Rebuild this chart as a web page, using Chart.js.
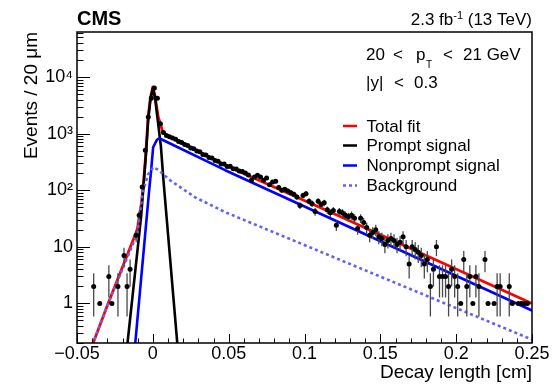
<!DOCTYPE html>
<html>
<head>
<meta charset="utf-8">
<script src="https://cdn.jsdelivr.net/npm/chart.js@4/dist/chart.umd.min.js"></script>
<style>
  html, body { margin: 0; padding: 0; background: #fff; }
  canvas { display: block; }
</style>
</head>
<body>
<canvas id="c" width="557" height="384"></canvas>
<script>
// ---------------- data ----------------
// Data histogram: bin centres [cm] and event counts (20 um bins, only non-empty bins)
const dataX = [
  -0.039,-0.035,-0.029,-0.027,-0.023,-0.019,-0.017,-0.015,-0.011,-0.009,-0.007,-0.005,-0.003,-0.001,
  0.001,0.003,0.005,0.007,0.009,0.011,0.013,0.015,0.017,0.019,0.021,0.023,0.025,0.027,0.029,0.031,
  0.033,0.035,0.037,0.039,0.041,0.043,0.045,0.047,0.049,0.051,0.053,0.055,0.057,0.059,0.061,0.063,
  0.065,0.067,0.069,0.071,0.073,0.075,0.077,0.079,0.081,0.083,0.085,0.087,0.089,0.091,0.093,0.095,
  0.097,0.099,0.101,0.103,0.105,0.107,0.109,0.111,0.113,0.115,0.117,0.119,0.121,0.123,0.125,0.127,
  0.129,0.131,0.133,0.135,0.137,0.139,0.141,0.143,0.145,0.147,0.149,0.151,0.153,0.155,0.157,0.159,
  0.161,0.163,0.165,0.167,0.169,0.171,0.173,0.175,0.177,0.179,0.181,0.183,0.185,0.187,0.189,0.191,
  0.193,0.195,0.197,0.199,0.201,0.203,0.205,0.207,0.209,0.211,0.213,0.215,0.219,0.221,0.225,0.227,
  0.229,0.235,0.237,0.241,0.243,0.245,0.247
];
const dataCounts = [
  2,1,3,1,2,7,2,4,16,36,114,510,1970,4200,
  6400,4200,1500,1050,930,880,840,800,730,700,640,615,560,540,495,480,
  430,420,380,370,335,325,290,290,262,265,240,238,218,215,202,185,
  150,172,184,172,150,165,125,140,144,112,100,104,97,90,85,76,
  54,81,87,64,58,42,64,56,60,45,40,44,24,42,40,36,
  34,36,32,21,32,27,22,16,18,20,15,14,11,13,14,13,
  11,12,15,10,5,10,9,8,7,5,6,2,4,10,3,3,
  3,2,4,3,2,1,6,2,3,1,3,2,6,1,1,2,
  2,2,1,1,1,1,1
];

// Fit curves: vertices (x [cm], value)
const totalFitX = [-0.0413,-0.0295,-0.0103,-0.0077,-0.0064,-0.0047,-0.0031,-0.0016,0.0000,0.0015,0.0035,0.0053,0.0065,0.0088,0.0114,0.0477,0.1202,0.2500];
const totalFitY = [0.145,1.0,20,55,110,420,1970,4300,6700,4600,2000,1400,1075,950,880,277,37.6,1.0];

const promptX = [-0.0172,-0.0077,-0.0057,-0.0044,-0.0031,-0.0016,0.0000,0.0015,0.0035,0.0053,0.0070,0.0165];
const promptY = [0.15,35,170,480,1700,4000,6300,4200,1500,600,150,0.15];

const nonpromptX = [-0.0120,-0.0024,-0.0011,0.0002,0.0026,0.0042,0.0477,0.2500];
const nonpromptY = [0.15,100,226,575,770,830,226,0.75];

const bkgX = [-0.0413,-0.0295,-0.0103,-0.0084,-0.0064,-0.0031,0.0002,0.0035,0.0114,0.0279,0.0477,0.2500];
const bkgY = [0.145,1.0,17,41,100,190,255,230,150,75,41,0.23];

// Axis ticks and labels
const xTickValues = [-0.05, 0, 0.05, 0.1, 0.15, 0.2, 0.25];
const xTickLabels = ['\u22120.05', '0', '0.05', '0.1', '0.15', '0.2', '0.25'];
const yTickValues = [1, 10, 100, 1000, 10000];
const yTickLabels = ['1', '10', '10\u00B2', '10\u00B3', '10\u2074'];

// Texts
const legendLabels = ['Total fit', 'Prompt signal', 'Nonprompt signal', 'Background'];
const xTitle = 'Decay length [cm]';
const yTitle = 'Events / 20 \u03BCm';

// ---------------- build ----------------
const FONT = "'Liberation Sans', Arial, Helvetica, sans-serif";
const pts = (xs, ys) => xs.map((x, i) => ({x: x, y: ys[i]}));

const dataPoints = pts(dataX, dataCounts);
const errBars = [];
dataX.forEach((x, i) => {
  const n = dataCounts[i], e = Math.sqrt(n);
  errBars.push({x: x, y: Math.max(n - e, 0)});
  errBars.push({x: x, y: n + e});
  errBars.push({x: x, y: null});
});

const COL = { total: '#ff0000', prompt: '#000000', nonprompt: '#0000ff', bkg: '#6262ee' };

const decor = {
  id: 'decor',
  afterDraw(chart) {
    const {ctx, chartArea: a, scales: {x, y}} = chart;
    ctx.save();
    // inward ticks
    ctx.strokeStyle = '#000';
    ctx.lineWidth = 1;
    ctx.beginPath();
    for (let i = 0; i <= 30; i++) {
      const v = -0.05 + i * 0.01;
      const px = Math.round(x.getPixelForValue(v)) + 0.5;
      const len = (i % 5 === 0) ? 9 : 4.5;
      ctx.moveTo(px, a.bottom);
      ctx.lineTo(px, a.bottom - len);
    }
    for (let d = -1; d <= 4; d++) {
      for (let m = 1; m <= 9; m++) {
        const v = m * Math.pow(10, d);
        if (v < y.min * 0.999 || v > y.max) continue;
        const py = Math.round(y.getPixelForValue(v)) + 0.5;
        const len = (m === 1) ? 13 : 6.5;
        ctx.moveTo(a.left, py);
        ctx.lineTo(a.left + len, py);
      }
    }
    ctx.stroke();
    // frame
    ctx.lineWidth = 1.5;
    ctx.strokeRect(a.left, a.top, a.right - a.left, a.bottom - a.top);

    ctx.fillStyle = '#000';
    ctx.textBaseline = 'alphabetic';
    // CMS
    ctx.font = 'bold 20px ' + FONT;
    ctx.textAlign = 'left';
    ctx.fillText('CMS', 77, 25);
    // lumi
    ctx.font = '17px ' + FONT;
    const p1 = '2.3 fb', p3 = ' (13 TeV)';
    const w1 = ctx.measureText(p1).width, w3 = ctx.measureText(p3).width;
    ctx.font = '11px ' + FONT;
    const p2 = '-1';
    const w2 = ctx.measureText(p2).width;
    let sx = a.right - (w1 + w2 + w3);
    ctx.font = '17px ' + FONT;
    ctx.fillText(p1, sx, 25);
    ctx.font = '11px ' + FONT;
    ctx.fillText(p2, sx + w1, 19);
    ctx.font = '17px ' + FONT;
    ctx.fillText(p3, sx + w1 + w2, 25);

    // kinematic selection text
    ctx.font = '17px ' + FONT;
    ctx.fillText('20', 366, 60);
    ctx.fillText('<', 393, 60);
    ctx.fillText('p', 416, 60);
    ctx.font = '10px ' + FONT;
    ctx.fillText('T', 426, 68);
    ctx.font = '17px ' + FONT;
    ctx.fillText('<', 443, 60);
    ctx.fillText('21 GeV', 463, 60);
    ctx.fillText('|y|', 366, 88);
    ctx.fillText('<', 394, 88);
    ctx.fillText('0.3', 414, 88);

    // legend
    const lg = [
      {c: COL.total, dash: [], yl: 126, yt: 131.5},
      {c: COL.prompt, dash: [], yl: 145.5, yt: 150.5},
      {c: COL.nonprompt, dash: [], yl: 165.5, yt: 170.5},
      {c: COL.bkg, dash: [3, 3], yl: 185.5, yt: 190.5}
    ];
    lg.forEach((e, i) => {
      ctx.strokeStyle = e.c;
      ctx.lineWidth = 2.5;
      ctx.setLineDash(e.dash);
      ctx.beginPath();
      ctx.moveTo(343, e.yl);
      ctx.lineTo(357, e.yl);
      ctx.stroke();
      ctx.setLineDash([]);
      ctx.font = '17px ' + FONT;
      ctx.fillStyle = '#000';
      ctx.fillText(legendLabels[i], 366.5, e.yt);
    });
    ctx.restore();
  }
};

const curveStyle = { pointRadius: 0, fill: false, borderJoinStyle: 'round', borderCapStyle: 'butt', tension: 0 };

new Chart(document.getElementById('c'), {
  type: 'line',
  data: {
    datasets: [
      { label: 'Data', data: dataPoints, showLine: false, pointRadius: 2.5, pointBackgroundColor: '#000',
        pointBorderColor: '#000', pointBorderWidth: 0, borderWidth: 0 },
      { label: 'errors', data: errBars, borderColor: '#4a4a4a', borderWidth: 1.3, pointRadius: 0, spanGaps: false, fill: false },
      Object.assign({ label: 'Background', data: pts(bkgX, bkgY), borderColor: COL.bkg, borderWidth: 2.6, borderDash: [3, 3] }, curveStyle),
      Object.assign({ label: 'Nonprompt signal', data: pts(nonpromptX, nonpromptY), borderColor: COL.nonprompt, borderWidth: 2.6 }, curveStyle),
      Object.assign({ label: 'Prompt signal', data: pts(promptX, promptY), borderColor: COL.prompt, borderWidth: 2.6 }, curveStyle),
      Object.assign({ label: 'Total fit', data: pts(totalFitX, totalFitY), borderColor: COL.total, borderWidth: 2.8 }, curveStyle)
    ]
  },
  options: {
    responsive: false,
    animation: false,
    events: [],
    layout: { padding: { top: 32, right: 25, left: 0, bottom: 0 } },
    plugins: { legend: { display: false }, tooltip: { enabled: false } },
    scales: {
      x: {
        type: 'linear', min: -0.05, max: 0.25,
        afterBuildTicks: s => { s.ticks = xTickValues.map(v => ({value: v})); },
        afterFit: s => { s.height = 41; },
        grid: { display: false, drawTicks: false },
        border: { display: false },
        ticks: {
          autoSkip: false, maxRotation: 0, padding: 0, color: '#000',
          font: { family: FONT, size: 18 },
          callback: (v) => xTickLabels[xTickValues.indexOf(v)]
        },
        title: { display: true, text: xTitle, align: 'end', color: '#000',
                 font: { family: FONT, size: 19 }, padding: { top: 0, bottom: 0 } }
      },
      y: {
        type: 'logarithmic', min: 0.2, max: 62500,
        afterBuildTicks: s => { s.ticks = yTickValues.map(v => ({value: v})); },
        afterFit: s => { s.width = 77; },
        grid: { display: false, drawTicks: false },
        border: { display: false },
        ticks: {
          autoSkip: false, padding: 4, color: '#000',
          font: { family: FONT, size: 18 },
          callback: (v) => yTickLabels[yTickValues.indexOf(v)]
        },
        title: { display: true, text: yTitle, align: 'end', color: '#000',
                 font: { family: FONT, size: 19 }, padding: { top: 20, bottom: 0 } }
      }
    }
  },
  plugins: [decor]
});
</script>
</body>
</html>
